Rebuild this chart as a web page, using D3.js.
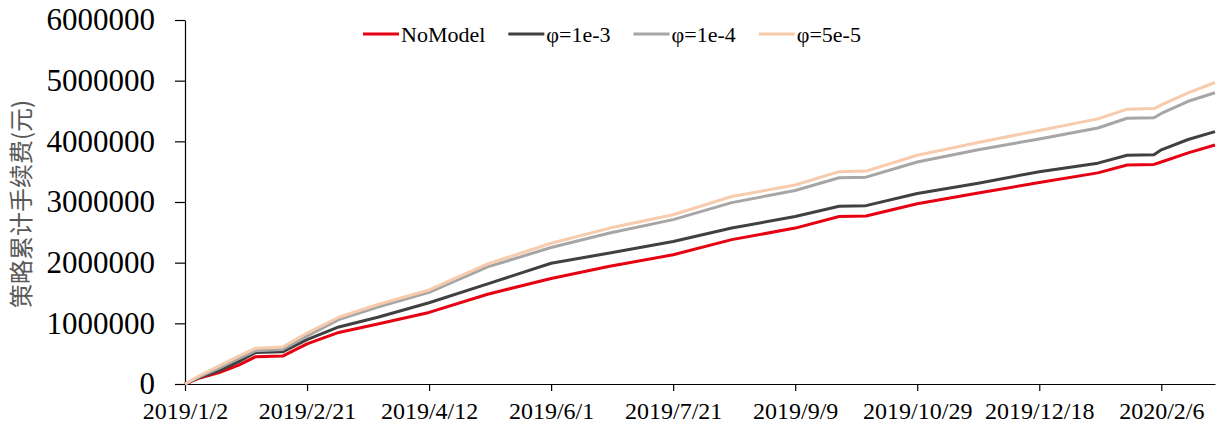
<!DOCTYPE html>
<html>
<head>
<meta charset="utf-8">
<script src="https://cdn.jsdelivr.net/npm/d3@7"></script>
<style>
  body { margin: 0; background: #fff; }
  svg { display: block; }
</style>
</head>
<body>
<div id="chart"></div>
<script>
// dates of the readings (trading days)
const dates = [
  "2019-01-02", "2019-01-08", "2019-01-16", "2019-01-24", "2019-01-31", "2019-02-11",
  "2019-02-21", "2019-03-06", "2019-03-22", "2019-04-12", "2019-05-06", "2019-06-01",
  "2019-06-25", "2019-07-21", "2019-08-14", "2019-09-09", "2019-09-27", "2019-10-08",
  "2019-10-29", "2019-11-23", "2019-12-18", "2020-01-11", "2020-01-23", "2020-02-03",
  "2020-02-06", "2020-02-17", "2020-02-28"
];

const noModel = [
  0, 100000, 190000, 310000, 450000, 460000,
  660000, 850000, 990000, 1180000, 1480000, 1740000,
  1940000, 2130000, 2380000, 2570000, 2760000, 2770000,
  2970000, 3150000, 3320000, 3480000, 3610000, 3620000,
  3660000, 3810000, 3940000
];
const phi1e3 = [
  0, 110000, 220000, 370000, 520000, 530000,
  730000, 940000, 1100000, 1340000, 1650000, 1990000,
  2160000, 2350000, 2570000, 2760000, 2930000, 2940000,
  3140000, 3310000, 3500000, 3640000, 3770000, 3780000,
  3860000, 4030000, 4160000
];
const phi1e4 = [
  0, 120000, 260000, 420000, 550000, 570000,
  790000, 1060000, 1270000, 1510000, 1930000, 2250000,
  2490000, 2710000, 2990000, 3190000, 3400000, 3410000,
  3660000, 3860000, 4040000, 4220000, 4380000, 4390000,
  4460000, 4660000, 4800000
];
const phi5e5 = [
  0, 140000, 300000, 460000, 590000, 610000,
  840000, 1100000, 1310000, 1550000, 1980000, 2320000,
  2570000, 2790000, 3090000, 3280000, 3500000, 3510000,
  3770000, 3980000, 4180000, 4370000, 4530000, 4540000,
  4600000, 4800000, 4970000
];

const seriesNames = ["NoModel", "φ=1e-3", "φ=1e-4", "φ=5e-5"];
const seriesColors = ["#e60012", "#404040", "#a6a6a6", "#f8cbad"];
const xTickLabels = [
  "2019/1/2", "2019/2/21", "2019/4/12", "2019/6/1", "2019/7/21",
  "2019/9/9", "2019/10/29", "2019/12/18", "2020/2/6"
];
const yTicks = [0, 1000000, 2000000, 3000000, 4000000, 5000000, 6000000];
const yTitle = "策略累计手续费(元)";

const width = 1230, height = 435;
const margin = { top: 20, right: 15, bottom: 51, left: 185 };

const parse = d3.timeParse("%Y-%m-%d");
const parseTick = d3.timeParse("%Y/%m/%d");
const dateObjs = dates.map(parse);

const svg = d3.select("#chart")
  .append("svg")
  .attr("width", width)
  .attr("height", height);

const x = d3.scaleTime()
  .domain([dateObjs[0], dateObjs[dateObjs.length - 1]])
  .range([margin.left, width - margin.right]);

const y = d3.scaleLinear()
  .domain([0, 6000000])
  .range([height - margin.bottom, margin.top]);

const serif = "'Liberation Serif', 'Times New Roman', serif";

// x axis
const xAxis = svg.append("g")
  .attr("transform", `translate(0,${height - margin.bottom})`)
  .call(d3.axisBottom(x)
    .tickValues(xTickLabels.map(parseTick))
    .tickFormat((d, i) => xTickLabels[i])
    .tickSizeInner(7)
    .tickSizeOuter(0)
    .tickPadding(11));
xAxis.select(".domain").attr("stroke", "#000").attr("stroke-width", 1.2);
xAxis.selectAll(".tick line").attr("stroke", "#000").attr("stroke-width", 1.2);
xAxis.selectAll(".tick text")
  .attr("fill", "#000")
  .style("font-family", serif)
  .style("font-size", "24px");

// y axis
const yAxis = svg.append("g")
  .attr("transform", `translate(${margin.left},0)`)
  .call(d3.axisLeft(y)
    .tickValues(yTicks)
    .tickFormat(d3.format("d"))
    .tickSizeInner(10)
    .tickSizeOuter(0)
    .tickPadding(20));
yAxis.select(".domain").attr("stroke", "#000").attr("stroke-width", 1.2);
yAxis.selectAll(".tick line").attr("stroke", "#000").attr("stroke-width", 1.2);
yAxis.selectAll(".tick text")
  .attr("fill", "#000")
  .style("font-family", serif)
  .style("font-size", "31px");

svg.append("text")
  .attr("transform", `translate(30,${(margin.top + height - margin.bottom) / 2 + 2}) rotate(-90)`)
  .attr("text-anchor", "middle")
  .attr("fill", "#595959")
  .style("font-family", "'Noto Sans CJK SC', sans-serif")
  .style("font-size", "24px")
  .text(yTitle);

// lines
const allSeries = [noModel, phi1e3, phi1e4, phi5e5];
const line = d3.line()
  .x((d, i) => x(dateObjs[i]))
  .y(d => y(d));

svg.append("g")
  .selectAll("path")
  .data(allSeries)
  .enter()
  .append("path")
  .attr("d", line)
  .attr("fill", "none")
  .attr("stroke", (_, i) => seriesColors[i])
  .attr("stroke-width", 3)
  .attr("stroke-linejoin", "round");

// legend
const legend = svg.append("g").attr("transform", "translate(363,34)");
let lx = 0;
seriesNames.forEach((name, i) => {
  const g = legend.append("g").attr("transform", `translate(${lx},0)`);
  g.append("line")
    .attr("x1", 0).attr("x2", 36)
    .attr("y1", 0).attr("y2", 0)
    .attr("stroke", seriesColors[i])
    .attr("stroke-width", 3);
  const t = g.append("text")
    .attr("x", 38)
    .attr("y", 8)
    .attr("fill", "#000")
    .style("font-family", serif)
    .style("font-size", "22px")
    .text(name);
  lx += 38 + t.node().getComputedTextLength() + 23;
});
</script>
</body>
</html>
